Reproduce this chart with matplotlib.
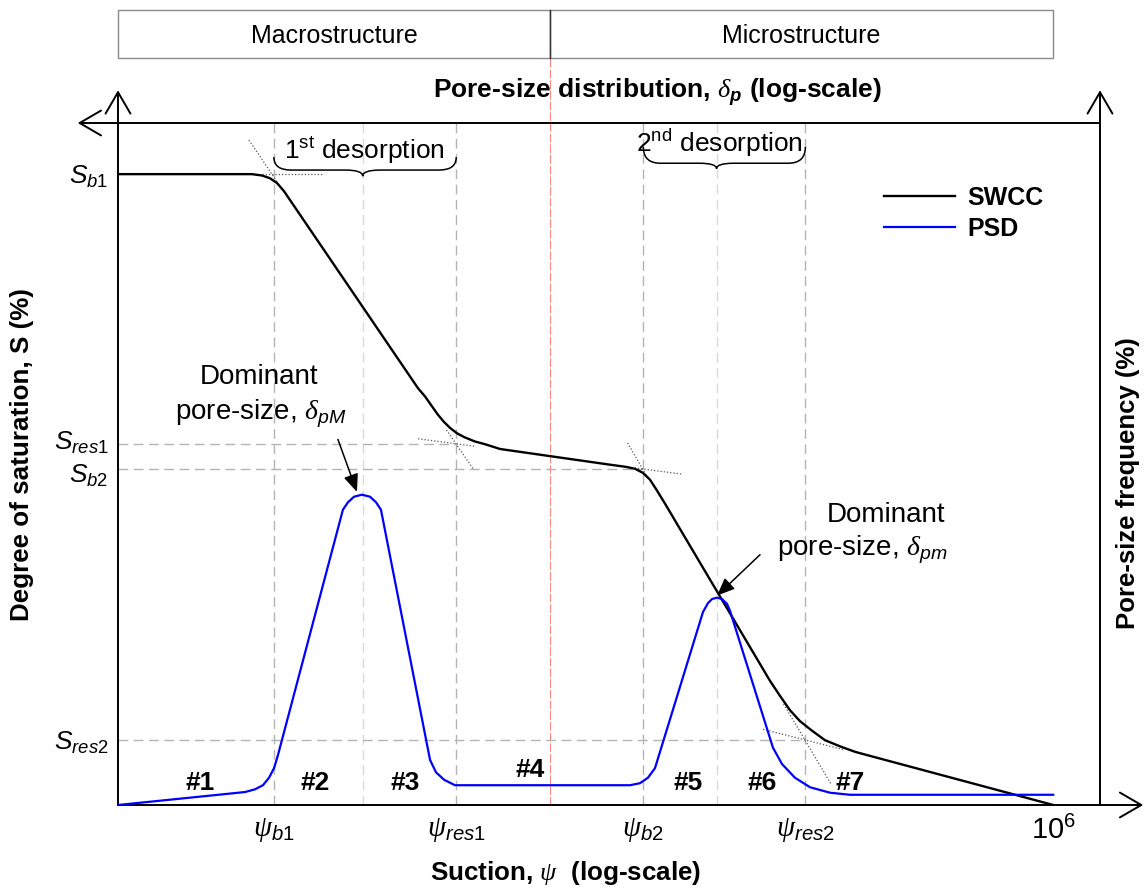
import numpy as np
import matplotlib
matplotlib.use("Agg")
import matplotlib.pyplot as plt
from matplotlib.patches import Rectangle, PathPatch
from matplotlib.path import Path
from matplotlib import transforms
from matplotlib.ticker import NullLocator

plt.rcParams.update({
    "font.family": ["Liberation Sans", "DejaVu Sans"],
    "mathtext.fontset": "custom",
    "mathtext.rm": "Liberation Sans",
    "mathtext.it": "Liberation Sans:italic",
    "mathtext.bf": "Liberation Sans:bold",
    "mathtext.bfit": "Liberation Sans:bold:italic",
    "mathtext.sf": "Liberation Serif:italic",
})

# ---- characteristic points (log10 of suction, saturation in %) ----
log_psi_b1 = 1.00
log_delta_pM = 1.57
log_psi_res1 = 2.17
log_split = 2.77
log_psi_b2 = 3.37
log_delta_pm = 3.84
log_psi_res2 = 4.41
log_psi_max = 6.00

S_b1 = 92.5
S_res1 = 52.9
S_b2 = 49.3
S_res2 = 9.5

# ---- soil-water characteristic curve (bimodal) ----
swcc_log_suction = [0.000, 0.860, 0.924, 0.975, 1.020, 1.065, 1.925, 1.970, 2.010,
                    2.050, 2.090, 2.130, 2.175, 2.225, 2.290, 2.355, 2.451, 3.156,
                    3.253, 3.317, 3.368, 3.413, 3.458, 3.509, 4.183, 4.247, 4.311,
                    4.375, 4.452, 4.536, 4.632, 4.728, 4.825, 6.000]
swcc_saturation = [92.5, 92.5, 92.3, 91.9, 91.2, 90.0, 61.1, 59.9, 58.6,
                   57.3, 56.2, 55.3, 54.5, 53.9, 53.3, 52.9, 52.2, 49.9,
                   49.6, 49.3, 48.7, 47.7, 46.1, 44.2, 18.2, 16.0, 13.9,
                   12.3, 10.9, 9.5, 8.6, 7.8, 7.2, 0.0]

# ---- pore-size distribution (bimodal) ----
psd_log_size = [0.000, 0.815, 0.879, 0.930, 0.969, 1.001, 1.026, 1.443, 1.476,
                1.514, 1.565, 1.617, 1.655, 1.687, 2.002, 2.040, 2.092, 2.162,
                3.285, 3.349, 3.400, 3.445, 3.753, 3.785, 3.811, 3.843, 3.875,
                3.907, 3.926, 4.202, 4.260, 4.343, 4.440, 4.568, 4.696, 6.000]
psd_frequency = [0.0, 1.9, 2.3, 2.9, 4.0, 5.4, 7.3, 43.3, 44.4,
                 45.2, 45.5, 45.2, 44.4, 43.3, 6.6, 4.8, 3.7, 2.9,
                 2.9, 3.2, 4.0, 5.4, 28.3, 29.6, 30.2, 30.4, 30.2,
                 29.5, 28.5, 8.4, 6.0, 4.0, 2.6, 1.8, 1.5, 1.5]

# ---- tangent constructions around break points ----
tangents = [
    ([0.840, 1.026], [97.5, 91.2]),
    ([0.924, 1.309], [92.5, 92.5]),
    ([2.107, 2.284], [55.0, 49.1]),
    ([1.925, 2.290], [53.7, 52.6]),
    ([3.269, 3.400], [53.1, 47.9]),
    ([3.253, 3.625], [49.6, 48.5]),
    ([4.270, 4.574], [14.8, 3.1]),
    ([4.138, 4.658], [11.1, 8.1]),
]

zone_labels = ["#1", "#2", "#3", "#4", "#5", "#6", "#7"]
zone_log_x = [0.526, 1.264, 1.841, 2.643, 3.657, 4.132, 4.696]
zone_y = [3.2, 3.2, 3.2, 5.1, 3.2, 3.2, 3.2]

x_tick_logs = [log_psi_b1, log_psi_res1, log_psi_b2, log_psi_res2, log_psi_max]
x_tick_labels = [r"$\mathsf{\psi}_{\mathit{b1}}$", r"$\mathsf{\psi}_{\mathit{res1}}$",
                 r"$\mathsf{\psi}_{\mathit{b2}}$", r"$\mathsf{\psi}_{\mathit{res2}}$",
                 r"$10^{6}$"]
y_tick_values = [S_b1, S_res1, S_b2, S_res2]
y_tick_labels = [r"$\mathit{S}_{\mathit{b1}}$", r"$\mathit{S}_{\mathit{res1}}$",
                 r"$\mathit{S}_{\mathit{b2}}$", r"$\mathit{S}_{\mathit{res2}}$"]

region_edges = [0.0, log_split, log_psi_max]
region_names = ["Macrostructure", "Microstructure"]

W, H = 1146, 888
fig = plt.figure(figsize=(W / 100, H / 100), dpi=100)
ax = fig.add_axes([118 / W, 83 / H, 982 / W, 682 / H])
ax.set_xscale("log")
ax.set_xlim(1, 10 ** 6.3)
ax.set_ylim(0, 100)
for sp in ax.spines.values():
    sp.set_visible(False)
ax.xaxis.set_minor_locator(NullLocator())


def lx(v):
    return 10.0 ** np.asarray(v, dtype=float)


# axis lines with open arrow heads
arrow_kw = dict(arrowstyle="->,head_length=0.55,head_width=0.32", lw=1.4,
                color="black", mutation_scale=28, shrinkA=0, shrinkB=0)
for start, end in [((0, 0), (0, 1.048)), ((0, 0), (1.044, 0)),
                   ((1, 1), (-0.041, 1)), ((1, 0), (1, 1.048))]:
    ax.annotate("", xy=end, xytext=start, xycoords="axes fraction",
                textcoords="axes fraction", arrowprops=arrow_kw,
                annotation_clip=False)

# guide lines
grey = "#b4b4b4"
light = "#dadada"
for v in [log_psi_b1, log_psi_res1, log_psi_b2, log_psi_res2]:
    ax.plot(lx([v, v]), [0, 100], color=grey, lw=1.0, dashes=(7, 4), zorder=1)
for v in [log_delta_pM, log_delta_pm]:
    ax.plot(lx([v, v]), [0, 100], color=light, lw=1.0, dashes=(7, 4), zorder=1)
ax.plot(lx([log_split, log_split]), [0, 109.5], color="#ff8080", lw=0.7,
        dashes=(9, 2), zorder=1, clip_on=False)
for s, xe in [(S_res1, log_psi_res1), (S_b2, log_psi_b2), (S_res2, log_psi_res2)]:
    ax.plot(lx([0, xe]), [s, s], color=grey, lw=1.0, dashes=(7, 4), zorder=1)

for tx, ty in tangents:
    ax.plot(lx(tx), ty, color="#555555", lw=0.9, dashes=(1, 1.6), zorder=2)

# curves
swcc_line, = ax.plot(lx(swcc_log_suction), swcc_saturation, color="black",
                     lw=1.7, zorder=4, label="SWCC", solid_joinstyle="round")
ax2 = ax.twinx()
ax2.set_ylim(0, 100)
ax2.set_xlim(ax.get_xlim())
ax2.axis("off")
psd_line, = ax2.plot(lx(psd_log_size), psd_frequency, color="#0000ff", lw=1.6,
                     zorder=3, label="PSD", solid_joinstyle="round")

# ticks
ax.set_xticks(lx(x_tick_logs))
ax.set_xticklabels(x_tick_labels, fontsize=21)
ax.set_yticks(y_tick_values)
ax.set_yticklabels(y_tick_labels, fontsize=19)
ax.tick_params(length=0, pad=7)
ax.tick_params(axis="x", pad=8)
# spread the two close saturation labels a little apart
ylabels = ax.get_yticklabels()
for lab, dy in [(ylabels[1], 3), (ylabels[2], -3)]:
    lab.set_transform(lab.get_transform() +
                      transforms.ScaledTranslation(0, dy / 72, fig.dpi_scale_trans))

# zone labels
for lab, zx, zy in zip(zone_labels, zone_log_x, zone_y):
    ax.text(lx(zx), zy, lab, fontsize=19, fontweight="bold", ha="center",
            va="center", zorder=5)


def brace(x0, x1, xm, y_top, y_mid, y_tip, r):
    verts = [(x0, y_top), (x0, y_mid), (x0 + r, y_mid), (xm - r, y_mid),
             (xm, y_mid), (xm, y_tip), (xm, y_mid), (xm + r, y_mid),
             (x1 - r, y_mid), (x1, y_mid), (x1, y_top)]
    codes = [Path.MOVETO, Path.CURVE3, Path.CURVE3, Path.LINETO,
             Path.CURVE3, Path.CURVE3, Path.CURVE3, Path.CURVE3,
             Path.LINETO, Path.CURVE3, Path.CURVE3]
    verts = [(10 ** vx, vy) for vx, vy in verts]
    ax.add_patch(PathPatch(Path(verts, codes), fc="none", ec="black", lw=1.1,
                           clip_on=False, zorder=5))


brace(log_psi_b1, log_psi_res1, log_delta_pM, 95.0, 93.1, 92.2, 0.11)
brace(log_psi_b2, log_psi_res2, log_delta_pm, 96.5, 94.1, 93.3, 0.11)
ax.text(lx(1.578), 95.9, r"$1^{\mathrm{st}}$ desorption", fontsize=19,
        ha="center", va="center")
ax.text(lx(3.862), 97.1, r"$2^{\mathrm{nd}}$ desorption", fontsize=19,
        ha="center", va="center")

# dominant pore-size call-outs
ax.text(lx(0.905), 62.7, "Dominant", fontsize=20, ha="center", va="center")
ax.text(lx(0.917), 57.4, r"pore-size, $\mathsf{\delta}_{\mathit{pM}}$",
        fontsize=20, ha="center", va="center")
ax.annotate("", xy=(lx(1.533), 45.9), xytext=(lx(1.411), 53.6),
            arrowprops=dict(arrowstyle="-|>,head_length=0.6,head_width=0.25",
                            lw=1.1, color="black", mutation_scale=18,
                            shrinkA=0, shrinkB=0), zorder=6)
ax.text(lx(4.927), 42.5, "Dominant", fontsize=20, ha="center", va="center")
ax.text(lx(4.773), 37.4, r"pore-size, $\mathsf{\delta}_{\mathit{pm}}$",
        fontsize=20, ha="center", va="center")
ax.annotate("", xy=(lx(3.843), 30.7), xytext=(lx(4.119), 36.7),
            arrowprops=dict(arrowstyle="-|>,head_length=0.6,head_width=0.25",
                            lw=1.1, color="black", mutation_scale=18,
                            shrinkA=0, shrinkB=0), zorder=6)

# legend
ax.legend(handles=[swcc_line, psd_line], loc="upper left",
          bbox_to_anchor=(0.780, 0.908), frameon=False, borderpad=0,
          borderaxespad=0, handlelength=2.85, handletextpad=0.5,
          labelspacing=0.3, prop=dict(size=18, weight="bold"))

# header boxes spanning the two structural levels
blend = transforms.blended_transform_factory(ax.transData, fig.transFigure)
y0_box, y1_box = 1 - 58 / H, 1 - 10 / H
for (a, b), name in zip(zip(region_edges[:-1], region_edges[1:]), region_names):
    ax.add_patch(Rectangle((10 ** a, y0_box), 10 ** b - 10 ** a, y1_box - y0_box,
                           transform=blend, fc="white", ec="#8a8a8a", lw=1.0,
                           clip_on=False))
    ax.text(10 ** ((a + b) / 2), 1 - 36 / H, name, transform=blend,
            fontsize=18, ha="center", va="center")
ax.plot([10 ** log_split] * 2, [y0_box, y1_box], transform=blend, color="#333333",
        lw=1.0, clip_on=False)

# axis titles
fig.text(657 / W, 1 - 92 / H,
         r"Pore-size distribution, $\mathsf{\delta}_{\mathbfit{p}}$ (log-scale)",
         fontsize=19, fontweight="bold", ha="center", va="center")
fig.text(566 / W, 1 - 873 / H, r"Suction, $\mathsf{\psi}$  (log-scale)",
         fontsize=18.7, fontweight="bold", ha="center", va="center")
fig.text(22 / W, 1 - 455 / H, "Degree of saturation, S (%)", rotation=90,
         fontsize=18.7, fontweight="bold", ha="center", va="center")
fig.text(1128 / W, 1 - 483 / H, "Pore-size frequency (%)", rotation=90,
         fontsize=18.5, fontweight="bold", ha="center", va="center")

fig.savefig("out.png", dpi=100)
